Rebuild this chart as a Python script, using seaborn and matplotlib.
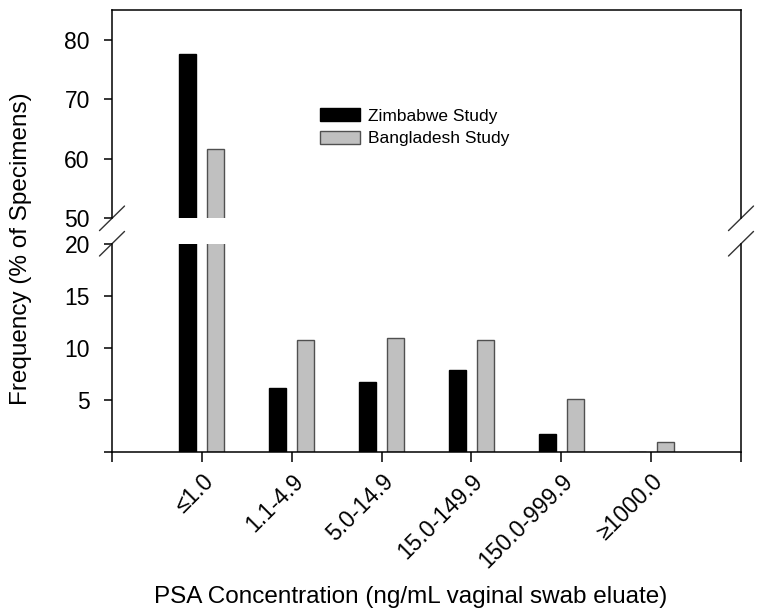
import matplotlib.pyplot as plt
import seaborn as sns
import pandas as pd

# valores
categorias = ['≤1.0', '1.1-4.9', '5.0-14.9', '15.0-149.9', '150.0-999.9', '≥1000.0']
estudios = ['Zimbabwe Study', 'Bangladesh Study']
zimbabwe = [77.6, 6.15, 6.7, 7.85, 1.75, 0.0]
bangladesh = [61.7, 10.75, 10.95, 10.75, 5.05, 1.0]

df = pd.DataFrame({
    'conc': categorias * 2,
    'estudio': [estudios[0]] * len(categorias) + [estudios[1]] * len(categorias),
    'freq': zimbabwe + bangladesh,
})

sns.set_style('ticks')
plt.rcParams['font.family'] = ['Liberation Sans', 'DejaVu Sans']
plt.rcParams['text.color'] = 'black'
plt.rcParams['xtick.color'] = 'black'
plt.rcParams['ytick.color'] = 'black'
plt.rcParams['axes.labelcolor'] = 'black'

colores = {'Zimbabwe Study': 'black', 'Bangladesh Study': '#c0c0c0'}
bordes = ['black', '#505050']

fig = plt.figure(figsize=(7.64, 6.15), dpi=100)
ax_top = fig.add_axes([0.1466, 0.645, 0.8233, 0.3387])
ax_bot = fig.add_axes([0.1466, 0.265, 0.8233, 0.3387])

for ax in (ax_top, ax_bot):
    sns.barplot(data=df, x='conc', y='freq', hue='estudio', order=categorias,
                hue_order=estudios, palette=colores, width=0.62, gap=0.39,
                linewidth=1, ax=ax, legend=(ax is ax_top))
    for cont, borde in zip(ax.containers, bordes):
        for barra in cont:
            barra.set_edgecolor(borde)
    ax.set_xlim(-1, 6)
    ax.set_xlabel('')
    ax.set_ylabel('')
    for lado in ['left', 'right', 'top', 'bottom']:
        ax.spines[lado].set_linewidth(1.1)
        ax.spines[lado].set_color('black')
    ax.tick_params(axis='y', labelsize=16.5, length=6, pad=10, width=1.1)

# eje superior (50-85)
ax_top.set_ylim(50, 85)
ax_top.set_yticks([50, 60, 70, 80])
ax_top.spines['bottom'].set_visible(False)
ax_top.tick_params(axis='x', bottom=False, labelbottom=False)

# eje inferior (0-20)
ax_bot.set_ylim(0, 20)
ax_bot.set_yticks([0, 5, 10, 15, 20])
ax_bot.set_yticklabels(['', '5', '10', '15', '20'])
ax_bot.spines['top'].set_visible(False)
ax_bot.set_xticks(range(-1, 7))
ax_bot.set_xticklabels([''] + categorias + [''], rotation=45, ha='right',
                       rotation_mode='anchor', fontsize=16.5)
ax_bot.tick_params(axis='x', length=7, pad=6, width=1.1)

# marcas de corte
dx, dy = 0.0199, 0.059
for xx in (0, 1):
    ax_top.plot([xx - dx, xx + dx], [-dy, dy], transform=ax_top.transAxes,
                color='#333333', lw=1, clip_on=False)
    ax_bot.plot([xx - dx, xx + dx], [1 - dy, 1 + dy], transform=ax_bot.transAxes,
                color='#333333', lw=1, clip_on=False)

leg = ax_top.legend(loc='upper left', bbox_to_anchor=(0.331, 0.529), frameon=False,
                    borderpad=0, borderaxespad=0, fontsize=12.5, handlelength=2.3,
                    handleheight=0.75, handletextpad=0.46, labelspacing=0.43)
for h, borde in zip(leg.legend_handles, bordes):
    h.set_edgecolor(borde)
    h.set_linewidth(1)

fig.text(0.027, 0.596, 'Frequency (% of Specimens)', rotation=90, va='center',
         ha='center', fontsize=17.5)
fig.text(0.537, 0.029, 'PSA Concentration (ng/mL vaginal swab eluate)', va='center',
         ha='center', fontsize=17.5)

fig.savefig('out.png', dpi=100)
